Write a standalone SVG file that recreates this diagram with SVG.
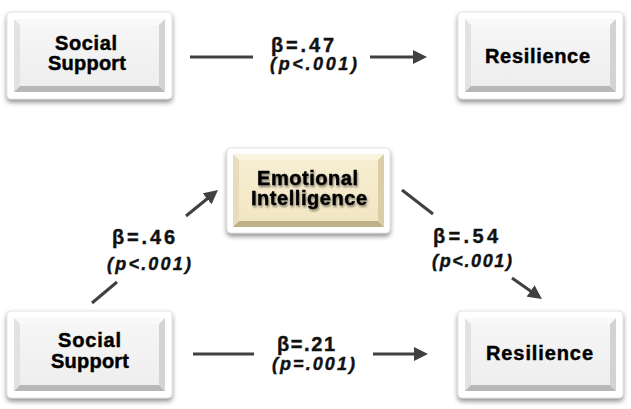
<svg xmlns="http://www.w3.org/2000/svg" xmlns:xlink="http://www.w3.org/1999/xlink" width="631" height="409" viewBox="0 0 631 409">
<style>
.node{font-family:"Liberation Sans",Arial,sans-serif;font-weight:bold;font-size:20px;fill:#000;stroke:#000;stroke-width:0.45px;}
.beta{font-family:"Liberation Sans",Arial,sans-serif;font-weight:bold;font-size:20px;fill:#111;stroke:#111;stroke-width:0.4px;}
.pval{font-family:"Liberation Sans",Arial,sans-serif;font-weight:bold;font-style:italic;font-size:18px;fill:#111;stroke:#111;stroke-width:0.4px;}
.conn{stroke:#404040;stroke-width:3;fill:none;}
.arr{marker-end:url(#arrow);}
</style>
<defs>
<filter id="shadow" x="-10%" y="-10%" width="120%" height="130%">
<feDropShadow dx="0" dy="3" stdDeviation="2.5" flood-color="#000" flood-opacity="0.45"/>
</filter>
<filter id="tshadow" x="-10%" y="-20%" width="120%" height="140%">
<feGaussianBlur in="SourceAlpha" stdDeviation="1.3" result="b"/>
<feOffset in="b" dx="1" dy="1.5" result="o"/>
<feComponentTransfer in="o" result="s"><feFuncA type="linear" slope="0.45"/></feComponentTransfer>
<feMerge><feMergeNode in="s"/><feMergeNode in="SourceGraphic"/></feMerge>
</filter>
<linearGradient id="grayFace" x1="0" y1="0" x2="0" y2="1">
<stop offset="0" stop-color="#F6F6F6"/><stop offset="1" stop-color="#EEEEEE"/>
</linearGradient>
<linearGradient id="beigeFace" x1="0" y1="0" x2="0" y2="1">
<stop offset="0" stop-color="#F7EED2"/><stop offset="1" stop-color="#F2E7C4"/>
</linearGradient>
<marker id="arrow" markerUnits="userSpaceOnUse" markerWidth="14" markerHeight="14" viewBox="0 0 14 14" refX="10" refY="7" orient="auto">
<path d="M0,0 L14,7 L0,14 z" fill="#404040"/>
</marker>
<g id="grayBox">
<rect x="0" y="0" width="165" height="87" rx="4" fill="#fff" stroke="#d4d4d4" stroke-width="0.6" filter="url(#shadow)"/>
<polygon points="7,7 158,7 152,13 13,13" fill="#F9F9F9"/>
<polygon points="7,7 13,13 13,74 7,80" fill="#E2E2E2"/>
<polygon points="158,7 158,80 152,74 152,13" fill="#D3D3D3"/>
<polygon points="7,80 13,74 152,74 158,80" fill="#B7B7B7"/>
<rect x="13" y="13" width="139" height="61" fill="url(#grayFace)"/>
</g>
</defs>

<g id="connectors">
<line class="conn" x1="190" y1="57" x2="253" y2="57"/>
<line class="conn arr" x1="370" y1="57" x2="423" y2="57"/>
<line class="conn" x1="193" y1="354" x2="254" y2="354"/>
<line class="conn arr" x1="373" y1="354" x2="424" y2="354"/>
<line class="conn" x1="92" y1="303" x2="117" y2="282"/>
<line class="conn arr" x1="186" y1="216" x2="214.9" y2="192.5"/>
<line class="conn" x1="402" y1="190" x2="433" y2="214"/>
<line class="conn arr" x1="512" y1="278" x2="538.7" y2="296.7"/>
<text class="beta" x="271" y="52" textLength="63" lengthAdjust="spacing">β=.47</text>
<text class="pval" x="270" y="70" textLength="87" lengthAdjust="spacing">(p&lt;.001)</text>
<text class="beta" x="277" y="351" textLength="58" lengthAdjust="spacing">β=.21</text>
<text class="pval" x="272" y="370" textLength="83" lengthAdjust="spacing">(p=.001)</text>
<text class="beta" x="112" y="244" textLength="63" lengthAdjust="spacing">β=.46</text>
<text class="pval" x="107" y="270" textLength="84" lengthAdjust="spacing">(p&lt;.001)</text>
<text class="beta" x="433" y="243" textLength="65" lengthAdjust="spacing">β=.54</text>
<text class="pval" x="432" y="267" textLength="80" lengthAdjust="spacing">(p&lt;.001)</text>
</g>

<g id="node-social-support-top">
<use xlink:href="#grayBox" x="7" y="12"/>
<text class="node" x="55" y="50" textLength="62" lengthAdjust="spacing">Social</text>
<text class="node" x="48" y="70" textLength="78" lengthAdjust="spacing">Support</text>
</g>

<g id="node-resilience-top">
<use xlink:href="#grayBox" x="458" y="12"/>
<text class="node" x="485" y="63" textLength="105" lengthAdjust="spacing">Resilience</text>
</g>

<g id="node-emotional-intelligence">
<rect x="227" y="148" width="163" height="85" rx="4" fill="#fff" stroke="#d4d4d4" stroke-width="0.6" filter="url(#shadow)"/>
<polygon points="233,154 384,154 378,160 239,160" fill="#FAF3DE"/>
<polygon points="233,154 239,160 239,221 233,227" fill="#E8DDBA"/>
<polygon points="384,154 384,227 378,221 378,160" fill="#DBCEA7"/>
<polygon points="233,227 239,221 378,221 384,227" fill="#BFB08A"/>
<rect x="239" y="160" width="139" height="61" fill="url(#beigeFace)"/>
<g filter="url(#tshadow)">
<text class="node" x="257" y="185" textLength="101" lengthAdjust="spacing">Emotional</text>
<text class="node" x="251" y="205" textLength="116" lengthAdjust="spacing">Intelligence</text>
</g>
</g>

<g id="node-social-support-bottom">
<use xlink:href="#grayBox" x="7" y="311"/>
<text class="node" x="58" y="347" textLength="63" lengthAdjust="spacing">Social</text>
<text class="node" x="51" y="368" textLength="78" lengthAdjust="spacing">Support</text>
</g>

<g id="node-resilience-bottom">
<use xlink:href="#grayBox" x="458" y="311"/>
<text class="node" x="486" y="360" textLength="107" lengthAdjust="spacing">Resilience</text>
</g>
</svg>
